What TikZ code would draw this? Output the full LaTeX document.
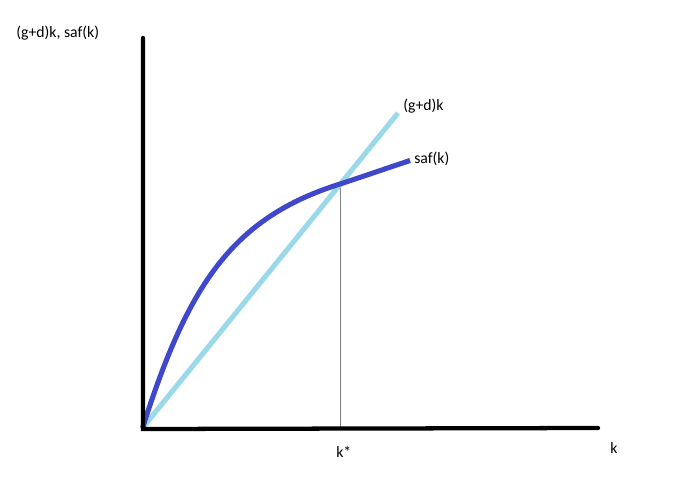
\documentclass[tikz,border=0pt]{standalone}
\usepackage{fontspec}
\setmainfont{Carlito}
\definecolor{curveblue}{HTML}{3F48CC}
\definecolor{lineblue}{HTML}{99D9EA}
\begin{document}
\begin{tikzpicture}[x=0.75pt,y=-0.75pt,
  axis/.style={line width=3.2pt,black,line cap=round},
  lbl/.style={font=\fontsize{11.8}{14}\selectfont,inner sep=0pt,text=black},
  saf/.style={line width=3.8pt,curveblue},
  gd/.style={line width=3.8pt,lineblue},
  guide/.style={line width=0.75pt,gray}]
\useasboundingbox (0,0) rectangle (697,482);
\coordinate (O) at (142.5,428);
\coordinate (ytop) at (143,38);
\coordinate (xend) at (598,428);
\coordinate (gdend) at (398,113);
\coordinate (E) at (340,184);
\coordinate (safend) at (410,160.5);
\coordinate (Ebase) at (340,428);
% guide
\draw[guide] (E) -- (Ebase);
% lines
\draw[gd] (O) -- (gdend);
\draw[saf] (O) .. controls (188,285) and (232,218) .. (E) .. controls (363,176.5) and (388,167.8) .. (safend);
% axes
\draw[axis] (ytop) -- (143,429) -- (xend);
% labels
\node[lbl,anchor=west] (ylab) at (16,33) {(g+d)k, saf(k)};
\node[lbl,anchor=west] (gdlab) at (403,106) {(g+d)k};
\node[lbl,anchor=west] (saflab) at (414,159) {saf(k)};
\node[lbl,anchor=west] (kstar) at (336,452) {k*};
\node[lbl,anchor=west] (klab) at (610,448) {k};
\end{tikzpicture}
\end{document}
